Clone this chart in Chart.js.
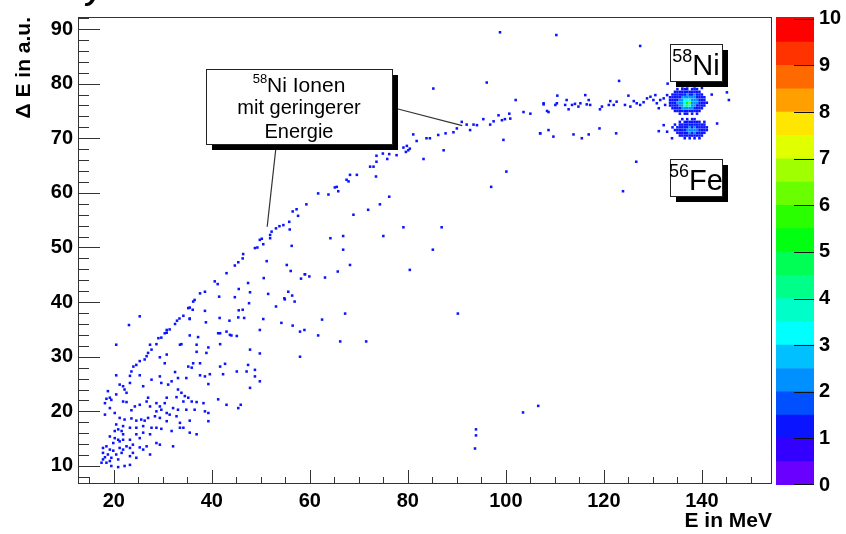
<!DOCTYPE html>
<html>
<head>
<meta charset="utf-8">
<script src="https://cdn.jsdelivr.net/npm/chart.js@4.4.1/dist/chart.umd.min.js"></script>
<style>
  html, body { margin: 0; padding: 0; background: #fff; }
  #wrap { position: relative; width: 846px; height: 534px; overflow: hidden; }
  #main { position: absolute; left: 0; top: 0; }
  #zbar { position: absolute; left: 776px; top: 0; }
</style>
</head>
<body>
<div id="wrap">
  <canvas id="main" width="846" height="534" style="width:846px;height:534px"></canvas>
  <canvas id="zbar" width="70" height="534" style="width:70px;height:534px"></canvas>
</div>
<script>
// ── Axes ───────────────────────────────────────────────────────────────────
const xTicks = [20, 40, 60, 80, 100, 120, 140];
const yTicks = [10, 20, 30, 40, 50, 60, 70, 80, 90];
const zTicks = [0, 1, 2, 3, 4, 5, 6, 7, 8, 9, 10];

// colour palette of the z axis (bottom to top)
const zEdges  = [0, 0.5, 1, 1.5, 2, 2.5, 3, 3.5, 4, 4.5, 5, 5.5, 6, 6.5, 7, 7.5, 8, 8.5, 9, 9.5, 10.04];
const zColors = ['#6a00ff', '#3300ff', '#0a14ff', '#0050ff', '#0090ff', '#00c0ff', '#00ffff', '#00ffc8',
                 '#00ff88', '#00ff55', '#00ff10', '#2aff00', '#6aff00', '#a0ff00', '#e0ff00', '#ffe600',
                 '#ffa000', '#ff6a00', '#ff3300', '#ff0000'];

// ── Single hits (E in MeV, dE in a.u.) ─────────────────────────────────────
const lowEnergyHits = [
  [30.8,34.4],[29.1,33.4],[29.7,33.5],[28.7,32.3],[27.4,32.2],[27.7,31.3],[27.0,30.7],[26.7,30.1],[26.3,29.5],[25.3,29.2],
  [24.6,28.5],[24.0,28.2],[23.6,27.3],[20.5,32.2],[35.5,33.9],[37.2,33.6],[41.7,34.3],[43.7,34.0],[45.1,33.8],[33.8,32.3],
  [36.9,32.2],[39.3,31.7],[41.7,32.3],[47.8,31.3],[36.9,30.9],[38.9,30.7],[30.8,30.4],[29.4,29.9],[30.4,28.8],[36.2,28.8],
  [35.9,28.0],[37.6,28.8],[35.2,28.2],[42.7,28.7],[41.7,28.2],[47.4,28.5],[45.1,27.3],[47.1,27.3],[32.5,27.2],[33.1,26.1],
  [34.8,26.1],[37.6,26.6],[38.6,26.4],[39.6,26.8],[42.3,26.8],[48.8,26.4],[49.8,25.5],[39.3,25.0],[47.8,24.3],[25.3,26.6],
  [23.3,26.5],[20.5,26.6],[29.4,26.4],[29.7,25.2],[31.8,25.5],[31.1,24.9],[27.7,25.8],[26.0,24.6],[21.2,24.9],[21.9,24.6],
  [22.2,24.0],[23.3,25.2],[22.6,23.4],[18.8,23.7],[20.5,23.1],[19.2,22.5],[18.5,22.3],[18.2,21.5],[19.5,22.1],[21.9,21.8],
  [22.6,21.7],[24.3,20.9],[23.6,20.2],[25.3,21.2],[27.0,22.5],[26.7,21.8],[27.4,20.9],[28.7,21.5],[29.4,20.9],[30.8,22.5],
  [30.4,21.5],[33.1,24.0],[33.8,23.4],[34.5,22.8],[35.2,22.5],[32.8,22.6],[34.2,21.8],[35.9,21.8],[36.9,21.7],[38.3,21.5],
  [32.1,20.6],[33.1,20.3],[34.8,20.3],[36.5,20.3],[38.6,20.0],[39.3,19.7],[41.3,22.2],[43.0,21.2],[45.4,20.6],[19.2,20.6],
  [20.2,19.7],[18.2,19.4],[21.2,18.8],[22.2,18.5],[23.6,18.7],[24.6,18.3],[25.6,18.5],[26.3,18.3],[27.0,18.8],[28.4,19.1],
  [29.4,18.8],[28.7,20.0],[29.7,20.3],[30.8,19.7],[31.4,19.4],[32.8,19.1],[35.5,18.3],[39.3,18.2],[30.8,18.2],[33.5,17.9],
  [34.2,17.0],[29.7,16.8],[28.7,17.0],[27.7,17.0],[26.0,17.3],[24.6,17.0],[23.3,17.0],[21.9,17.3],[20.5,17.6],[20.2,16.4],
  [20.9,16.7],[21.6,16.4],[21.9,15.8],[19.2,15.4],[20.2,15.1],[20.9,14.8],[19.9,14.2],[21.2,14.5],[21.9,14.8],[23.3,14.8],
  [24.6,15.8],[26.0,16.1],[27.4,15.8],[25.3,15.1],[23.9,13.9],[22.6,13.6],[21.2,13.3],[18.5,13.6],[17.8,13.3],[19.2,13.0],
  [19.9,12.8],[17.8,12.4],[18.8,12.1],[19.5,11.5],[20.5,12.1],[21.6,12.4],[21.9,13.0],[23.3,13.3],[25.3,13.4],[26.0,13.0],
  [26.7,13.6],[28.7,14.2],[29.4,13.9],[32.1,13.6],[31.8,16.4],[33.5,17.0],[35.5,16.1],[36.9,15.8],[27.4,12.1],[24.6,11.5],
  [23.9,12.4],[23.3,11.8],[20.9,11.2],[17.8,11.2],[17.5,10.6],[18.5,10.6],[19.5,10.0],[20.9,9.8],[22.2,10.0],[23.3,10.2],
  [19.2,10.9],[18.2,11.6]
];

const midEnergyHits = [
  [51.2,47.5],[56.3,50.3],[55.3,46.8],[56.1,45.7],[58.2,44.3],[59.0,45.1],[50.6,44.4],[47.4,43.5],[45.5,42.4],[47.8,41.8],
  [44.7,40.9],[41.5,41.0],[51.5,41.5],[55.6,41.9],[56.4,41.2],[54.8,40.7],[56.9,40.1],[47.6,39.8],[45.5,38.5],[46.3,38.6],
  [53.1,39.2],[38.6,38.4],[35.5,36.9],[38.8,36.3],[41.6,37.1],[43.6,36.6],[45.4,37.2],[46.6,37.1],[50.5,36.9],[54.2,36.2],
  [56.5,35.7],[58.9,34.9],[49.8,34.9],[43.0,34.6],[41.3,34.3],[44.0,33.9],[25.3,37.4],[23.1,35.8],[32.9,36.6],[30.8,34.9],
  [31.4,35.0],[30.4,34.3],[32.5,36.0],[33.4,37.0],[34.2,37.5],[35.5,37.0],[33.5,32.2],
  [54.9,40.5],[58.0,34.6],[62.5,36.8],[67.2,37.9],[66.2,32.8],[71.5,32.8],[61.7,33.9],[58.0,30.0],[48.8,27.6],[45.9,21.2],
  [49.8,30.6],[85.1,49.6],[90.2,37.9],[80.4,45.9]
];

const upperBranchHits = [
  [37.6,41.6],[38.6,41.9],[36.5,40.4],[36.2,40.1],[35.5,39.0],[35.2,38.9],[36.1,38.6],[40.6,43.8],[41.2,43.3],[43.0,45.3],
  [44.7,46.7],[45.4,47.3],[46.3,48.0],[46.4,48.8],[48.8,49.9],[49.3,50.0],[49.8,51.4],[50.2,51.6],[50.5,50.6],[51.9,51.7],
  [52.2,52.9],[51.9,52.3],[53.1,53.5],[53.8,53.9],[54.6,54.1],[55.8,54.7],[55.9,53.3],[56.5,56.6],[57.6,55.8],[57.3,57.0],
  [59.3,57.9],[61.7,59.9],[63.8,59.7],[65.1,61.0],[65.8,60.3],[65.5,61.1],[67.5,62.4],[67.9,62.1],[68.2,63.3],[69.6,63.3],
  [72.3,64.8],[73.0,64.8],[73.6,65.7],[73.6,66.8],[74.9,67.2],[76.2,67.1],[75.8,66.2],[77.7,66.9],[79.1,68.3],[79.8,68.6],
  [80.1,67.8],[79.6,67.5],[80.4,68.1],[81.1,70.7],[81.8,69.5],[83.8,70.0],[84.5,70.0],[86.2,70.6],[87.7,70.9],[89.3,71.1],
  [90.0,71.8],[91.0,73.0],[92.0,72.5],[92.7,71.5],[93.4,72.5],[94.1,72.4],[95.4,73.5],[96.8,72.5],[97.5,73.1],[98.5,74.2],
  [99.2,73.3],[99.8,73.5],[100.7,74.5],[100.9,73.6],[103.6,74.8],[105.0,74.5],[107.7,76.2],[108.7,74.8],
  [73.5,63.0],[76.2,59.3],[74.3,57.9],[71.9,56.9],[68.9,56.0],[66.8,52.1],[64.2,51.7],[66.8,49.6],[68.2,46.8],[65.7,45.6],
  [59.0,45.1],[59.9,44.7],[63.1,44.5],[75.0,52.1],[79.1,53.7],[86.9,53.7],[97.0,61.1],[100.1,63.9],[99.5,69.7],[107.0,70.9],
  [108.7,71.5],[87.3,67.8],[83.2,66.2],[85.2,79.1],[96.1,80.2],[102.0,77.0]
];

const highEnergyHits = [
  [107.7,76.4],[108.4,75.0],[110.1,76.1],[110.5,77.8],[110.4,76.4],[112.1,76.1],[112.4,77.0],[112.8,75.3],[113.5,76.1],[114.1,76.3],
  [114.8,75.8],[115.2,76.4],[116.2,77.9],[116.5,76.2],[116.9,77.0],[117.2,76.1],[119.2,75.3],[119.6,75.8],[121.0,76.1],[121.3,76.8],
  [122.0,76.1],[122.6,76.7],[124.3,76.1],[125.0,77.8],[125.4,75.8],[126.1,76.8],[126.7,76.4],[127.4,76.1],[128.1,76.6],[128.8,77.3],
  [129.5,77.6],[130.1,77.0],[130.5,77.9],[130.8,76.4],[131.2,75.5],[131.5,77.0],[132.2,77.3],[132.5,76.1],[132.9,77.9],[133.0,80.0],
  [123.1,80.5],[137.0,80.3],[138.3,80.0],[139.7,80.8],[140.0,79.2],[142.0,78.0],[145.1,78.4],[145.5,77.0],
  [107.0,70.9],[109.7,70.3],[113.8,70.7],[115.5,70.0],[116.9,70.7],[119.1,71.8],[122.5,70.9],[126.6,65.7],[123.9,60.3],[131.2,71.3],
  [132.2,72.4],[132.9,71.2],[133.9,70.0],[143.1,72.7],
  [93.9,16.7],[93.9,15.6],[93.7,13.2],[103.5,19.8],[106.6,21.0],[98.8,89.4],[110.3,88.9],[127.4,86.9]
];

// ── 58Ni and 56Fe peaks: bin centres and counts per bin ────────────────────
const niBinsX = [133.5,134.0,134.5,135.0,135.5,136.0,136.5,137.0,137.5,138.0,138.5,139.0,139.5,140.0,140.5,141.0];
const niBinsY = [79.5,79.0,78.5,78.0,77.5,77.0,76.5,76.0,75.5,75.0,74.5];
const niCounts = [
  '0000010100100000',
  '0001011101110000',
  '0011111111111000',
  '0111111211211100',
  '1111122222211110',
  '1111223332221110',
  '1112223562221111',
  '1111223432211110',
  '0111122222111100',
  '0011111111111000',
  '0000101101010000'
];
const feBinsX = [134.0,134.5,135.0,135.5,136.0,136.5,137.0,137.5,138.0,138.5,139.0,139.5,140.0,140.5,141.0,141.5];
const feBinsY = [73.5,73.0,72.5,72.0,71.5,71.0,70.5,70.0];
const feCounts = [
  '0000101011000000',
  '0001011111110100',
  '0101111111111100',
  '1011111212111110',
  '0111112222211110',
  '0011111212111100',
  '0001111111111000',
  '0000010101010000'
];

// ── Build datasets ─────────────────────────────────────────────────────────
function colorFor(c) {
  for (let i = 0; i < zColors.length; i++) {
    if (c >= zEdges[i] && c < zEdges[i + 1]) return zColors[i];
  }
  return zColors[zColors.length - 1];
}

const byCount = {};
function addHit(x, y, c) {
  if (!byCount[c]) byCount[c] = [];
  byCount[c].push({ x, y });
}
[lowEnergyHits, midEnergyHits, upperBranchHits, highEnergyHits].forEach(list =>
  list.forEach(([x, y]) => addHit(x, y, 1)));

function addPeak(binsX, binsY, rows) {
  rows.forEach((row, j) => {
    row.split('').forEach((ch, i) => {
      const c = +ch;
      if (c) addHit(binsX[i], binsY[j], c);
    });
  });
}
addPeak(niBinsX, niBinsY, niCounts);
addPeak(feBinsX, feBinsY, feCounts);

// highest counts first so they end up on top
const datasets = Object.keys(byCount).map(Number).sort((a, b) => b - a).map(c => ({
  data: byCount[c],
  pointStyle: 'rect',
  pointRadius: 1.8,
  pointHoverRadius: 1.8,
  backgroundColor: colorFor(c),
  borderWidth: 0,
  showLine: false
}));

const FONT = '"Liberation Sans", Arial, Helvetica, sans-serif';

// ── Frame + inward ticks (ROOT style) ──────────────────────────────────────
const frameTicks = {
  id: 'frameTicks',
  afterDraw(chart) {
    const { ctx, chartArea: a, scales: { x, y } } = chart;
    ctx.save();
    ctx.strokeStyle = '#333';
    ctx.lineWidth = 1;
    ctx.strokeRect(Math.round(a.left) + 0.5, Math.round(a.top) + 0.5,
                   Math.round(a.right - a.left) - 1, Math.round(a.bottom - a.top) - 1);
    ctx.beginPath();
    for (let v = 15; v <= 150; v += 5) {
      const px = Math.round(x.getPixelForValue(v)) + 0.5;
      const len = xTicks.includes(v) ? 14 : 7;
      ctx.moveTo(px, a.bottom);
      ctx.lineTo(px, a.bottom - len);
    }
    for (let v = 8; v <= 92; v += 2) {
      const py = Math.round(y.getPixelForValue(v)) + 0.5;
      const len = yTicks.includes(v) ? 22 : 11;
      ctx.moveTo(a.left, py);
      ctx.lineTo(a.left + len, py);
    }
    ctx.stroke();

    // descender of the (cut-off) page title above the frame
    ctx.fillStyle = '#000';
    ctx.font = `italic bold 30px ${FONT}`;
    ctx.textAlign = 'left';
    ctx.textBaseline = 'alphabetic';
    ctx.fillText('y', 86, 0);
    ctx.restore();
  }
};

// ── Annotations ────────────────────────────────────────────────────────────
const pointerLines = [
  [[53.1, 68.4], [51.3, 53.8]],
  [[77.8, 75.4], [91.1, 72.3]]
];
const ionBox   = [38.8, 82.7, 76.8, 69.0];
const niBox    = [133.4, 87.2, 144.0, 80.4];
const feBox    = [133.4, 66.2, 144.0, 59.4];

function shadowBox(ctx, l, t, r, b) {
  ctx.fillStyle = '#000';
  ctx.fillRect(l + 6, t + 6, r - l, b - t);
  ctx.fillStyle = '#fff';
  ctx.fillRect(l, t, r - l, b - t);
  ctx.strokeStyle = '#222';
  ctx.lineWidth = 1;
  ctx.strokeRect(l + 0.5, t + 0.5, r - l, b - t);
}

function isotope(ctx, cx, base, mass, sym, supSize, size, supRise) {
  ctx.font = `${supSize}px ${FONT}`;
  const w1 = ctx.measureText(mass).width;
  ctx.font = `${size}px ${FONT}`;
  const w2 = ctx.measureText(sym).width;
  const start = cx - (w1 + w2) / 2;
  ctx.fillStyle = '#000';
  ctx.textAlign = 'left';
  ctx.textBaseline = 'alphabetic';
  ctx.font = `${supSize}px ${FONT}`;
  ctx.fillText(mass, start, base - supRise);
  ctx.font = `${size}px ${FONT}`;
  ctx.fillText(sym, start + w1, base);
}

const annotations = {
  id: 'annotations',
  afterDatasetsDraw(chart) {
    const { ctx, scales: { x, y } } = chart;
    const P = (vx, vy) => [x.getPixelForValue(vx), y.getPixelForValue(vy)];
    ctx.save();
    ctx.strokeStyle = '#333';
    ctx.lineWidth = 1.2;
    pointerLines.forEach(([a, b]) => {
      const [x0, y0] = P(a[0], a[1]);
      const [x1, y1] = P(b[0], b[1]);
      ctx.beginPath();
      ctx.moveTo(x0, y0);
      ctx.lineTo(x1, y1);
      ctx.stroke();
    });

    // 58Ni Ionen mit geringerer Energie
    let [l, t] = P(ionBox[0], ionBox[1]);
    let [r, b] = P(ionBox[2], ionBox[3]);
    l = Math.round(l); t = Math.round(t); r = Math.round(r); b = Math.round(b);
    shadowBox(ctx, l, t, r, b);
    const cx = (l + r) / 2;
    isotope(ctx, cx, t + 23, '58', 'Ni Ionen', 13, 21, 9);
    ctx.font = `20px ${FONT}`;
    ctx.textAlign = 'center';
    ctx.fillText('mit geringerer', cx, t + 45);
    ctx.fillText('Energie', cx, t + 69);

    [[niBox, '58', 'Ni'], [feBox, '56', 'Fe']].forEach(([bx, mass, sym]) => {
      let [bl, bt] = P(bx[0], bx[1]);
      let [br, bb] = P(bx[2], bx[3]);
      bl = Math.round(bl); bt = Math.round(bt); br = Math.round(br); bb = Math.round(bb);
      shadowBox(ctx, bl, bt, br, bb);
      isotope(ctx, (bl + br) / 2, bt + 31, mass, sym, 18, 29, 13);
    });
    ctx.restore();
  }
};

// ── Main chart ─────────────────────────────────────────────────────────────
new Chart(document.getElementById('main'), {
  type: 'scatter',
  data: { datasets },
  options: {
    responsive: false,
    animation: false,
    events: [],
    layout: { padding: { top: 15, right: 74, left: 0, bottom: 0 } },
    plugins: { legend: { display: false }, tooltip: { enabled: false } },
    scales: {
      x: {
        type: 'linear', min: 12.7, max: 154.3,
        grid: { display: false, drawTicks: false },
        border: { display: false },
        afterBuildTicks: s => { s.ticks = xTicks.map(v => ({ value: v })); },
        afterFit: s => { s.height = 50; },
        ticks: { font: { family: FONT, size: 20, weight: 'bold' }, color: '#000', padding: 5, maxRotation: 0, autoSkip: false },
        title: { display: true, text: 'E in MeV', align: 'end', color: '#000', font: { family: FONT, size: 21, weight: 'bold' }, padding: 0 }
      },
      y: {
        type: 'linear', min: 6.7, max: 92.2,
        grid: { display: false, drawTicks: false },
        border: { display: false },
        afterBuildTicks: s => { s.ticks = yTicks.map(v => ({ value: v })); },
        afterFit: s => { s.width = 78; },
        ticks: { font: { family: FONT, size: 20, weight: 'bold' }, color: '#000', padding: 5, autoSkip: false },
        title: { display: true, text: 'Δ E in a.u.', align: 'end', color: '#000', font: { family: FONT, size: 21, weight: 'bold' }, padding: { top: 12 } }
      }
    }
  },
  plugins: [frameTicks, annotations]
});

// ── Colour bar ─────────────────────────────────────────────────────────────
const zTickMarks = {
  id: 'zTickMarks',
  afterDraw(chart) {
    const { ctx, chartArea: a, scales: { y } } = chart;
    ctx.save();
    ctx.strokeStyle = '#111';
    ctx.lineWidth = 1;
    ctx.beginPath();
    zTicks.forEach(v => {
      const py = Math.min(Math.round(y.getPixelForValue(v)), Math.round(a.bottom) - 1) + 0.5;
      ctx.moveTo(a.right, py);
      ctx.lineTo(a.right - 20, py);
    });
    ctx.stroke();
    ctx.restore();
  }
};

new Chart(document.getElementById('zbar'), {
  type: 'bar',
  data: {
    labels: [''],
    datasets: zColors.map((col, i) => ({
      data: [[zEdges[i], zEdges[i + 1]]],
      backgroundColor: col,
      borderWidth: 0,
      barPercentage: 1,
      categoryPercentage: 1,
      grouped: false
    }))
  },
  options: {
    responsive: false,
    animation: false,
    events: [],
    layout: { padding: { top: 15, bottom: 49, left: 0, right: 0 } },
    plugins: { legend: { display: false }, tooltip: { enabled: false } },
    scales: {
      x: { display: false },
      y: {
        position: 'right', min: zEdges[0], max: zEdges[zEdges.length - 1],
        grid: { display: false, drawTicks: false },
        border: { display: false },
        afterBuildTicks: s => { s.ticks = zTicks.map(v => ({ value: v })); },
        afterFit: s => { s.width = 32; },
        ticks: { font: { family: FONT, size: 20, weight: 'bold' }, color: '#000', padding: 5, autoSkip: false }
      }
    }
  },
  plugins: [zTickMarks]
});
</script>
</body>
</html>
